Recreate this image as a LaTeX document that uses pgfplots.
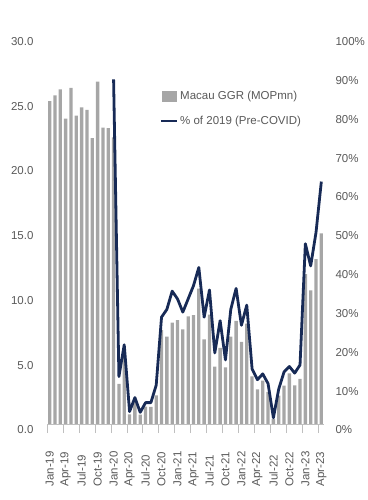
\documentclass[border=0pt]{standalone}
\usepackage{pgfplots}
\pgfplotsset{compat=1.18}
\usepackage{fontspec}
\setmainfont{Liberation Sans}
\definecolor{barcol}{RGB}{166,166,166}
\definecolor{navy}{RGB}{23,42,86}
\definecolor{txt}{RGB}{89,89,89}
\definecolor{axcol}{RGB}{191,191,191}
\newcommand{\lblfont}{\fontsize{11.5bp}{13bp}\selectfont}
\begin{document}
\begin{tikzpicture}
\path[use as bounding box] (0,0) rectangle (368bp,500bp);
\begin{axis}[
  at={(47bp,76bp)}, anchor=south west,
  scale only axis, width=277bp, height=388.5bp,
  xmin=-0.5, xmax=51.5, ymin=0, ymax=30,
  axis x line*=bottom, axis y line*=left,
  y axis line style={draw=none},
  x axis line style={draw=axcol, line width=0.8bp, -},
  xtick={0,3,...,51},
  xticklabels={Jan-19,Apr-19,Jul-19,Oct-19,Jan-20,Apr-20,Jul-20,Oct-20,Jan-21,Apr-21,Jul-21,Oct-21,Jan-22,Apr-22,Jul-22,Oct-22,Jan-23,Apr-23},
  minor xtick={-0.5,2.5,...,50.5},
  major tick length=0pt, minor tick length=9bp, xtick align=outside,
  minor x tick style={draw=axcol, line width=0.8bp},
  ytick={0,5,...,30},
  /pgf/number format/assume math mode=true,
  y tick label style={/pgf/number format/fixed, /pgf/number format/fixed zerofill, /pgf/number format/precision=1},
  tick label style={font=\lblfont, text=txt},
  yticklabel style={xshift=-10bp, yshift=-6bp},
  xticklabel style={yshift=-66bp, rotate=90, anchor=west},
]
\addplot[ybar, bar width=0.62, fill=barcol, draw=none] table {
x y
0 24.94
1 25.37
2 25.84
3 23.59
4 25.95
5 23.81
6 24.45
7 24.26
8 22.08
9 26.44
10 22.88
11 22.84
12 22.13
13 3.10
14 5.26
15 0.75
16 1.76
17 0.72
18 1.34
19 1.33
20 2.21
21 7.27
22 6.75
23 7.82
24 8.02
25 7.31
26 8.31
27 8.40
28 10.45
29 6.54
30 8.44
31 4.44
32 5.88
33 4.37
34 6.74
35 7.97
36 6.34
37 7.76
38 3.67
39 2.68
40 3.34
41 2.48
42 0.40
43 2.19
44 2.96
45 3.90
46 2.99
47 3.48
48 11.58
49 10.32
50 12.74
51 14.72
};
\end{axis}
\begin{axis}[
  at={(47bp,76bp)}, anchor=south west,
  scale only axis, width=277bp, height=388.5bp,
  xmin=-0.5, xmax=51.5, ymin=0, ymax=100,
  hide x axis, axis y line*=right,
  y axis line style={draw=none},
  major tick length=0pt,
  ytick={0,10,...,100},
  /pgf/number format/assume math mode=true,
  yticklabel={\pgfmathprintnumber[fixed,precision=0]{\tick}\%},
  tick label style={font=\lblfont, text=txt},
  yticklabel style={xshift=8bp, yshift=-6bp},
  legend style={draw=none, fill=none, at={(0.405,0.862)}, anchor=north west,
    font=\lblfont, text=txt, inner sep=0pt, row sep=11bp},
  legend cell align=left,
]
\addlegendimage{legend image code/.code={\fill[barcol] (0bp,-5bp) rectangle (14bp,5bp);}}
\addlegendentry{Macau GGR (MOPmn)}
\addplot[navy, line width=2.8bp, line join=round,
  legend image code/.code={\draw[navy, line width=2.8bp] (-1bp,0bp) -- (15bp,0bp);}] table {
x y
12 88.7
13 12.2
14 20.4
15 3.2
16 6.8
17 3.0
18 5.5
19 5.5
20 10.0
21 27.5
22 29.5
23 34.2
24 32.2
25 28.8
26 32.2
27 35.6
28 40.3
29 27.5
30 34.5
31 18.3
32 26.6
33 16.5
34 29.5
35 34.9
36 25.4
37 30.6
38 14.2
39 11.4
40 12.9
41 10.4
42 1.6
43 9.0
44 13.4
45 14.8
46 13.1
47 15.2
48 46.4
49 40.7
50 49.3
51 62.4
};
\addlegendentry{\% of 2019 (Pre-COVID)}
\end{axis}
\end{tikzpicture}
\end{document}
